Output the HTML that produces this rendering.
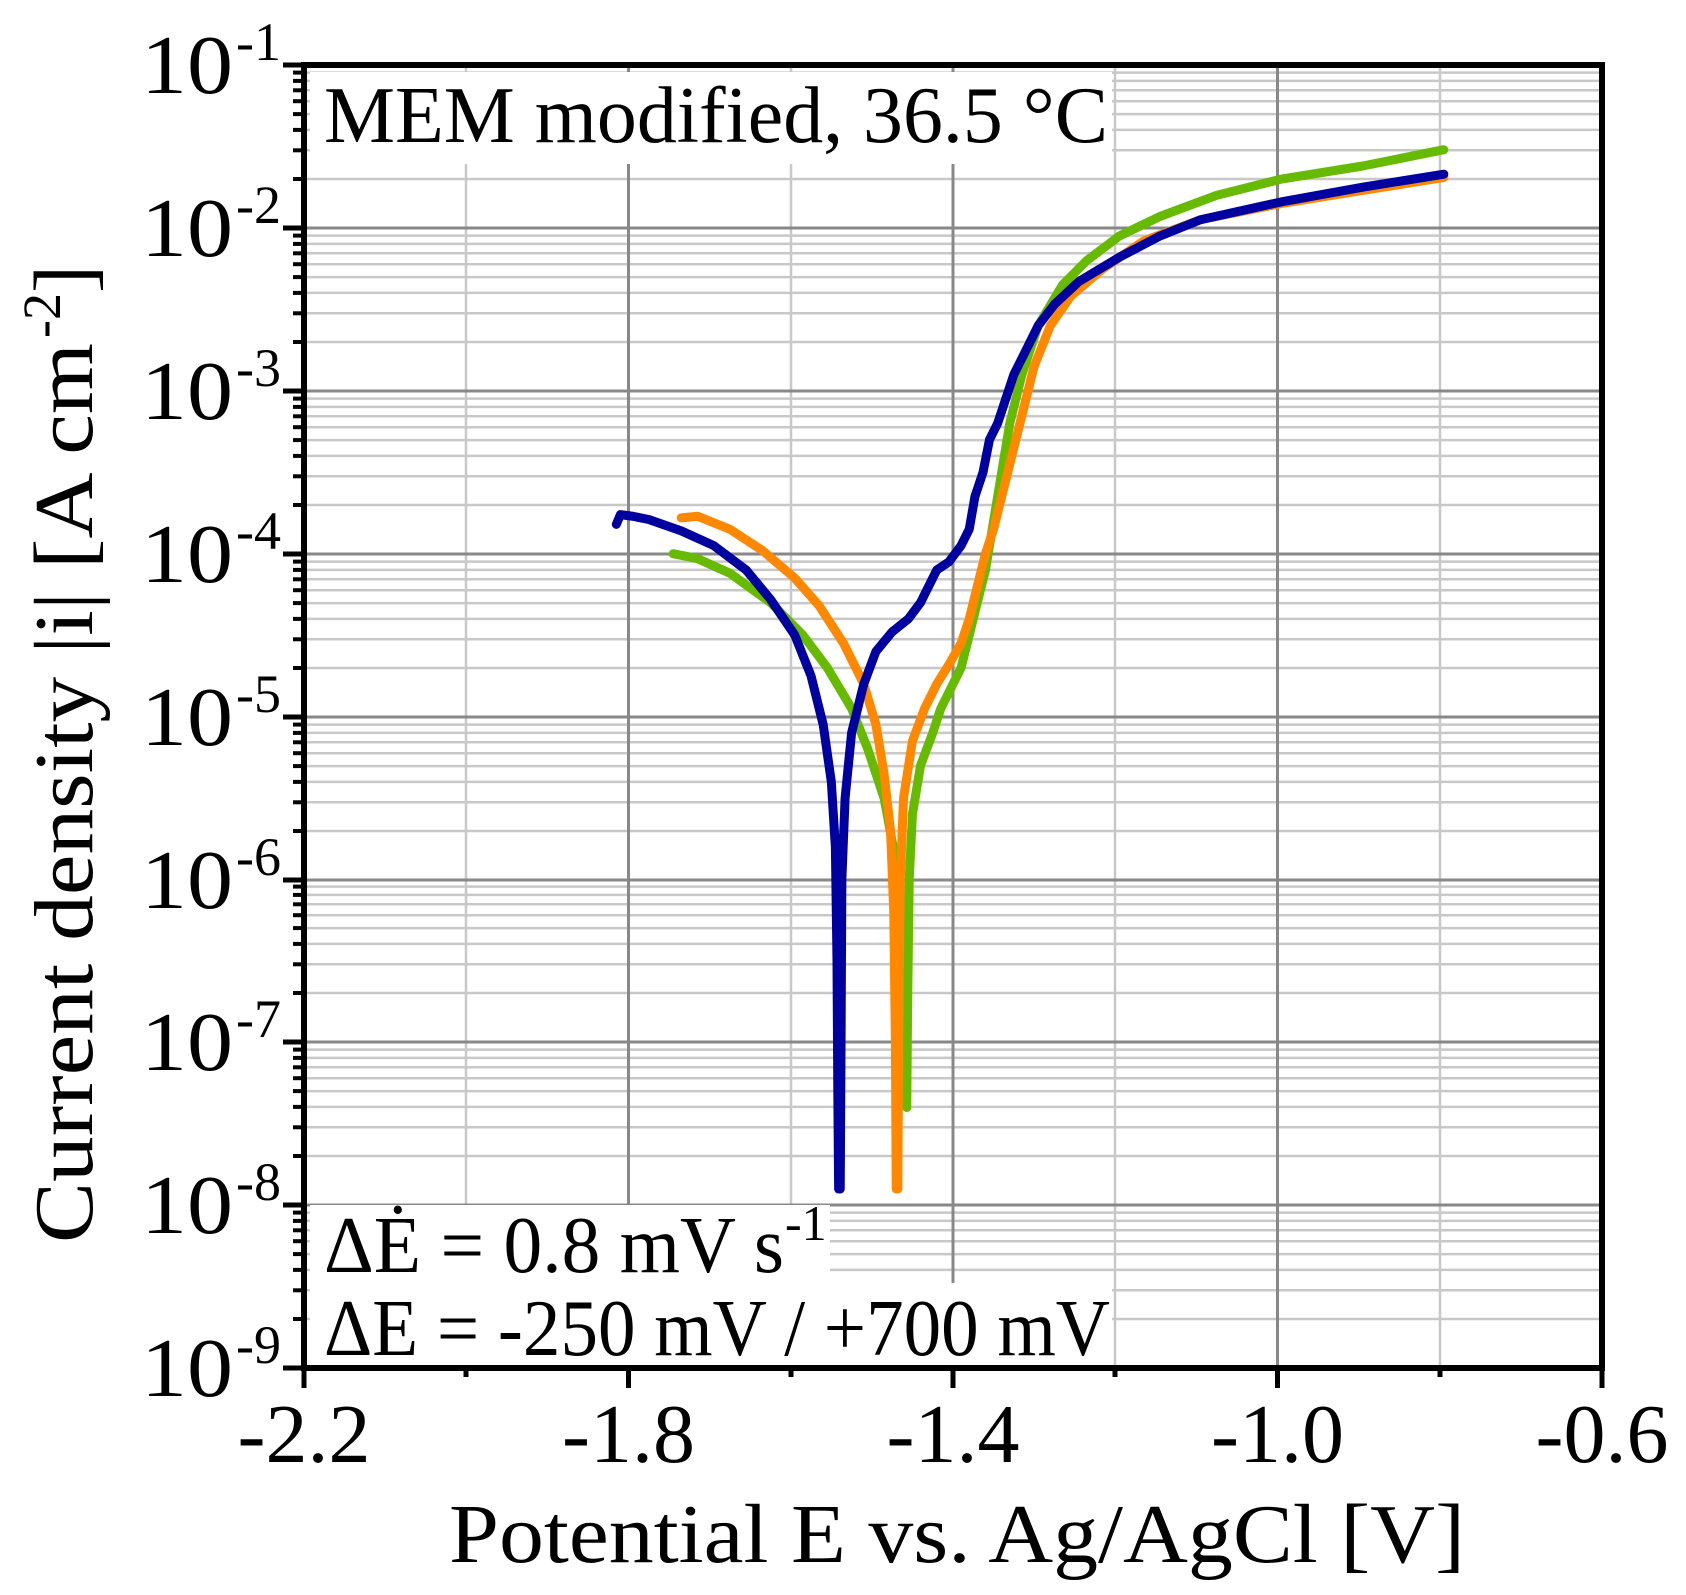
<!DOCTYPE html>
<html><head><meta charset="utf-8"><style>
html,body{margin:0;padding:0;background:#fff;}
svg{display:block;font-family:"Liberation Serif",serif;}
</style></head><body>
<svg width="1686" height="1595" viewBox="0 0 1686 1595" xmlns="http://www.w3.org/2000/svg">
<rect width="1686" height="1595" fill="#fff"/>
<g stroke="#c8c8c8" stroke-width="2.5">
<line x1="304" x2="1602" y1="179" y2="179"/><line x1="304" x2="1602" y1="150.3" y2="150.3"/><line x1="304" x2="1602" y1="129.9" y2="129.9"/><line x1="304" x2="1602" y1="114.1" y2="114.1"/><line x1="304" x2="1602" y1="101.2" y2="101.2"/><line x1="304" x2="1602" y1="90.3" y2="90.3"/><line x1="304" x2="1602" y1="80.9" y2="80.9"/><line x1="304" x2="1602" y1="72.6" y2="72.6"/>
<line x1="304" x2="1602" y1="342" y2="342"/><line x1="304" x2="1602" y1="313.3" y2="313.3"/><line x1="304" x2="1602" y1="292.9" y2="292.9"/><line x1="304" x2="1602" y1="277.1" y2="277.1"/><line x1="304" x2="1602" y1="264.2" y2="264.2"/><line x1="304" x2="1602" y1="253.3" y2="253.3"/><line x1="304" x2="1602" y1="243.9" y2="243.9"/><line x1="304" x2="1602" y1="235.6" y2="235.6"/>
<line x1="304" x2="1602" y1="505" y2="505"/><line x1="304" x2="1602" y1="476.3" y2="476.3"/><line x1="304" x2="1602" y1="455.9" y2="455.9"/><line x1="304" x2="1602" y1="440.1" y2="440.1"/><line x1="304" x2="1602" y1="427.2" y2="427.2"/><line x1="304" x2="1602" y1="416.3" y2="416.3"/><line x1="304" x2="1602" y1="406.9" y2="406.9"/><line x1="304" x2="1602" y1="398.6" y2="398.6"/>
<line x1="304" x2="1602" y1="668" y2="668"/><line x1="304" x2="1602" y1="639.3" y2="639.3"/><line x1="304" x2="1602" y1="618.9" y2="618.9"/><line x1="304" x2="1602" y1="603.1" y2="603.1"/><line x1="304" x2="1602" y1="590.2" y2="590.2"/><line x1="304" x2="1602" y1="579.3" y2="579.3"/><line x1="304" x2="1602" y1="569.9" y2="569.9"/><line x1="304" x2="1602" y1="561.6" y2="561.6"/>
<line x1="304" x2="1602" y1="831" y2="831"/><line x1="304" x2="1602" y1="802.3" y2="802.3"/><line x1="304" x2="1602" y1="781.9" y2="781.9"/><line x1="304" x2="1602" y1="766.1" y2="766.1"/><line x1="304" x2="1602" y1="753.2" y2="753.2"/><line x1="304" x2="1602" y1="742.3" y2="742.3"/><line x1="304" x2="1602" y1="732.9" y2="732.9"/><line x1="304" x2="1602" y1="724.6" y2="724.6"/>
<line x1="304" x2="1602" y1="993" y2="993"/><line x1="304" x2="1602" y1="964.3" y2="964.3"/><line x1="304" x2="1602" y1="943.9" y2="943.9"/><line x1="304" x2="1602" y1="928.1" y2="928.1"/><line x1="304" x2="1602" y1="915.2" y2="915.2"/><line x1="304" x2="1602" y1="904.3" y2="904.3"/><line x1="304" x2="1602" y1="894.9" y2="894.9"/><line x1="304" x2="1602" y1="886.6" y2="886.6"/>
<line x1="304" x2="1602" y1="1156" y2="1156"/><line x1="304" x2="1602" y1="1127.3" y2="1127.3"/><line x1="304" x2="1602" y1="1106.9" y2="1106.9"/><line x1="304" x2="1602" y1="1091.1" y2="1091.1"/><line x1="304" x2="1602" y1="1078.2" y2="1078.2"/><line x1="304" x2="1602" y1="1067.3" y2="1067.3"/><line x1="304" x2="1602" y1="1057.9" y2="1057.9"/><line x1="304" x2="1602" y1="1049.6" y2="1049.6"/>
<line x1="304" x2="1602" y1="1319" y2="1319"/><line x1="304" x2="1602" y1="1290.3" y2="1290.3"/><line x1="304" x2="1602" y1="1269.9" y2="1269.9"/><line x1="304" x2="1602" y1="1254.1" y2="1254.1"/><line x1="304" x2="1602" y1="1241.2" y2="1241.2"/><line x1="304" x2="1602" y1="1230.3" y2="1230.3"/><line x1="304" x2="1602" y1="1220.9" y2="1220.9"/><line x1="304" x2="1602" y1="1212.6" y2="1212.6"/>
<line x1="466" x2="466" y1="65" y2="1368"/><line x1="791" x2="791" y1="65" y2="1368"/><line x1="1115" x2="1115" y1="65" y2="1368"/><line x1="1440" x2="1440" y1="65" y2="1368"/>
</g>
<g stroke="#888" stroke-width="3">
<line x1="628.5" x2="628.5" y1="65" y2="1368"/><line x1="953" x2="953" y1="65" y2="1368"/><line x1="1277.5" x2="1277.5" y1="65" y2="1368"/>
<line x1="304" x2="1602" y1="228" y2="228"/><line x1="304" x2="1602" y1="391" y2="391"/><line x1="304" x2="1602" y1="554" y2="554"/><line x1="304" x2="1602" y1="717" y2="717"/><line x1="304" x2="1602" y1="880" y2="880"/><line x1="304" x2="1602" y1="1042" y2="1042"/><line x1="304" x2="1602" y1="1205" y2="1205"/>
</g>
<g fill="none" stroke-linejoin="round" stroke-linecap="round" transform="translate(304 65) scale(811.25 -162.9) translate(2.205 1)">
<polyline vector-effect="non-scaling-stroke" stroke="#66BB00" stroke-width="9" points="-1.75,-4 -1.72,-4.03 -1.68,-4.12 -1.63,-4.3 -1.59,-4.5 -1.56,-4.7 -1.53,-4.95 -1.51,-5.2 -1.49,-5.5 -1.475,-5.9 -1.468,-6.3 -1.465,-6.8 -1.463,-7.3 -1.462,-7.4 -1.461,-6.8 -1.459,-6 -1.455,-5.6 -1.445,-5.3 -1.43,-5.1 -1.42,-4.95 -1.405,-4.8 -1.395,-4.7 -1.385,-4.5 -1.375,-4.3 -1.365,-4.1 -1.355,-3.8 -1.345,-3.5 -1.335,-3.2 -1.32,-2.9 -1.3,-2.6 -1.27,-2.35 -1.24,-2.2 -1.2,-2.05 -1.15,-1.93 -1.08,-1.8 -1.0,-1.7 -0.9,-1.62 -0.8,-1.52"/>
<polyline vector-effect="non-scaling-stroke" stroke="#FF8800" stroke-width="9" points="-1.74,-3.78 -1.72,-3.77 -1.68,-3.85 -1.64,-3.98 -1.6,-4.15 -1.57,-4.32 -1.54,-4.55 -1.515,-4.8 -1.5,-5.05 -1.49,-5.35 -1.482,-5.7 -1.478,-6.2 -1.476,-7 -1.475,-7.9 -1.473,-7.9 -1.472,-7 -1.47,-6 -1.466,-5.5 -1.455,-5.15 -1.44,-4.95 -1.425,-4.8 -1.41,-4.68 -1.395,-4.55 -1.385,-4.4 -1.375,-4.2 -1.365,-4 -1.355,-3.85 -1.345,-3.65 -1.335,-3.45 -1.32,-3.15 -1.305,-2.85 -1.285,-2.6 -1.26,-2.42 -1.22,-2.25 -1.17,-2.08 -1.1,-1.95 -1.0,-1.85 -0.9,-1.77 -0.8,-1.69"/>
<polyline vector-effect="non-scaling-stroke" stroke="#0000A0" stroke-width="9" points="-1.82,-3.82 -1.815,-3.76 -1.8,-3.77 -1.78,-3.79 -1.74,-3.86 -1.7,-3.95 -1.66,-4.1 -1.63,-4.28 -1.6,-4.5 -1.58,-4.75 -1.565,-5.05 -1.555,-5.4 -1.55,-5.8 -1.548,-6.5 -1.547,-7.3 -1.546,-7.9 -1.544,-7.9 -1.543,-7 -1.542,-6 -1.538,-5.5 -1.53,-5.1 -1.515,-4.8 -1.5,-4.6 -1.48,-4.48 -1.46,-4.4 -1.445,-4.3 -1.435,-4.2 -1.425,-4.1 -1.41,-4.05 -1.395,-3.95 -1.385,-3.85 -1.378,-3.65 -1.368,-3.5 -1.36,-3.3 -1.35,-3.2 -1.34,-3.05 -1.33,-2.9 -1.315,-2.75 -1.3,-2.6 -1.28,-2.47 -1.25,-2.33 -1.2,-2.18 -1.15,-2.05 -1.1,-1.95 -1.0,-1.84 -0.9,-1.75 -0.8,-1.67"/>
</g>
<rect x="310" y="72" width="802" height="92" fill="#fff"/>
<text x="324" y="142" font-size="80" textLength="784" lengthAdjust="spacingAndGlyphs">MEM modified, 36.5 °C</text>
<rect x="310" y="1205" width="520" height="78" fill="#fff"/>
<rect x="310" y="1283" width="802" height="82" fill="#fff"/>
<text x="324" y="1272" font-size="80" textLength="460" lengthAdjust="spacingAndGlyphs">ΔĖ = 0.8 mV s</text>
<text x="785" y="1240" font-size="50">-1</text>
<text x="324" y="1355" font-size="80" textLength="786" lengthAdjust="spacingAndGlyphs">ΔE = -250 mV / +700 mV</text>
<path d="M304 65 H1602 V1368 H304 Z" stroke="#000" stroke-width="6" fill="none"/>
<g stroke="#000" stroke-width="5">
<line x1="283" x2="304" y1="65" y2="65"/><line x1="283" x2="304" y1="228" y2="228"/><line x1="283" x2="304" y1="391" y2="391"/><line x1="283" x2="304" y1="554" y2="554"/><line x1="283" x2="304" y1="717" y2="717"/><line x1="283" x2="304" y1="880" y2="880"/><line x1="283" x2="304" y1="1042" y2="1042"/><line x1="283" x2="304" y1="1205" y2="1205"/><line x1="283" x2="304" y1="1368" y2="1368"/>
<line x1="304" x2="304" y1="1368" y2="1388"/><line x1="628.5" x2="628.5" y1="1368" y2="1388"/><line x1="953" x2="953" y1="1368" y2="1388"/><line x1="1277.5" x2="1277.5" y1="1368" y2="1388"/><line x1="1602" x2="1602" y1="1368" y2="1388"/>
<line x1="466" x2="466" y1="1368" y2="1377"/><line x1="791" x2="791" y1="1368" y2="1377"/><line x1="1115" x2="1115" y1="1368" y2="1377"/><line x1="1440" x2="1440" y1="1368" y2="1377"/>
</g>
<g stroke="#000" stroke-width="4">
<line x1="293" x2="304" y1="179" y2="179"/><line x1="293" x2="304" y1="150.3" y2="150.3"/><line x1="293" x2="304" y1="129.9" y2="129.9"/><line x1="293" x2="304" y1="114.1" y2="114.1"/><line x1="293" x2="304" y1="101.2" y2="101.2"/><line x1="293" x2="304" y1="90.3" y2="90.3"/><line x1="293" x2="304" y1="80.9" y2="80.9"/><line x1="293" x2="304" y1="72.6" y2="72.6"/>
<line x1="293" x2="304" y1="342" y2="342"/><line x1="293" x2="304" y1="313.3" y2="313.3"/><line x1="293" x2="304" y1="292.9" y2="292.9"/><line x1="293" x2="304" y1="277.1" y2="277.1"/><line x1="293" x2="304" y1="264.2" y2="264.2"/><line x1="293" x2="304" y1="253.3" y2="253.3"/><line x1="293" x2="304" y1="243.9" y2="243.9"/><line x1="293" x2="304" y1="235.6" y2="235.6"/>
<line x1="293" x2="304" y1="505" y2="505"/><line x1="293" x2="304" y1="476.3" y2="476.3"/><line x1="293" x2="304" y1="455.9" y2="455.9"/><line x1="293" x2="304" y1="440.1" y2="440.1"/><line x1="293" x2="304" y1="427.2" y2="427.2"/><line x1="293" x2="304" y1="416.3" y2="416.3"/><line x1="293" x2="304" y1="406.9" y2="406.9"/><line x1="293" x2="304" y1="398.6" y2="398.6"/>
<line x1="293" x2="304" y1="668" y2="668"/><line x1="293" x2="304" y1="639.3" y2="639.3"/><line x1="293" x2="304" y1="618.9" y2="618.9"/><line x1="293" x2="304" y1="603.1" y2="603.1"/><line x1="293" x2="304" y1="590.2" y2="590.2"/><line x1="293" x2="304" y1="579.3" y2="579.3"/><line x1="293" x2="304" y1="569.9" y2="569.9"/><line x1="293" x2="304" y1="561.6" y2="561.6"/>
<line x1="293" x2="304" y1="831" y2="831"/><line x1="293" x2="304" y1="802.3" y2="802.3"/><line x1="293" x2="304" y1="781.9" y2="781.9"/><line x1="293" x2="304" y1="766.1" y2="766.1"/><line x1="293" x2="304" y1="753.2" y2="753.2"/><line x1="293" x2="304" y1="742.3" y2="742.3"/><line x1="293" x2="304" y1="732.9" y2="732.9"/><line x1="293" x2="304" y1="724.6" y2="724.6"/>
<line x1="293" x2="304" y1="993" y2="993"/><line x1="293" x2="304" y1="964.3" y2="964.3"/><line x1="293" x2="304" y1="943.9" y2="943.9"/><line x1="293" x2="304" y1="928.1" y2="928.1"/><line x1="293" x2="304" y1="915.2" y2="915.2"/><line x1="293" x2="304" y1="904.3" y2="904.3"/><line x1="293" x2="304" y1="894.9" y2="894.9"/><line x1="293" x2="304" y1="886.6" y2="886.6"/>
<line x1="293" x2="304" y1="1156" y2="1156"/><line x1="293" x2="304" y1="1127.3" y2="1127.3"/><line x1="293" x2="304" y1="1106.9" y2="1106.9"/><line x1="293" x2="304" y1="1091.1" y2="1091.1"/><line x1="293" x2="304" y1="1078.2" y2="1078.2"/><line x1="293" x2="304" y1="1067.3" y2="1067.3"/><line x1="293" x2="304" y1="1057.9" y2="1057.9"/><line x1="293" x2="304" y1="1049.6" y2="1049.6"/>
<line x1="293" x2="304" y1="1319" y2="1319"/><line x1="293" x2="304" y1="1290.3" y2="1290.3"/><line x1="293" x2="304" y1="1269.9" y2="1269.9"/><line x1="293" x2="304" y1="1254.1" y2="1254.1"/><line x1="293" x2="304" y1="1241.2" y2="1241.2"/><line x1="293" x2="304" y1="1230.3" y2="1230.3"/><line x1="293" x2="304" y1="1220.9" y2="1220.9"/><line x1="293" x2="304" y1="1212.6" y2="1212.6"/>
</g>
<g font-size="84">
<text x="141" y="93" textLength="92" lengthAdjust="spacingAndGlyphs">10</text><text x="236" y="60" font-size="54">-1</text>
<text x="141" y="256" textLength="92" lengthAdjust="spacingAndGlyphs">10</text><text x="236" y="223" font-size="54">-2</text>
<text x="141" y="419" textLength="92" lengthAdjust="spacingAndGlyphs">10</text><text x="236" y="386" font-size="54">-3</text>
<text x="141" y="582" textLength="92" lengthAdjust="spacingAndGlyphs">10</text><text x="236" y="549" font-size="54">-4</text>
<text x="141" y="745" textLength="92" lengthAdjust="spacingAndGlyphs">10</text><text x="236" y="712" font-size="54">-5</text>
<text x="141" y="908" textLength="92" lengthAdjust="spacingAndGlyphs">10</text><text x="236" y="875" font-size="54">-6</text>
<text x="141" y="1070" textLength="92" lengthAdjust="spacingAndGlyphs">10</text><text x="236" y="1037" font-size="54">-7</text>
<text x="141" y="1233" textLength="92" lengthAdjust="spacingAndGlyphs">10</text><text x="236" y="1200" font-size="54">-8</text>
<text x="141" y="1396" textLength="92" lengthAdjust="spacingAndGlyphs">10</text><text x="236" y="1363" font-size="54">-9</text>
</g>
<g font-size="84" text-anchor="middle">
<text x="304" y="1462">-2.2</text>
<text x="628.5" y="1462">-1.8</text>
<text x="953" y="1462">-1.4</text>
<text x="1277.5" y="1462">-1.0</text>
<text x="1602" y="1462">-0.6</text>
</g>
<text x="449" y="1562" font-size="84" textLength="1016" lengthAdjust="spacingAndGlyphs">Potential E vs. Ag/AgCl [V]</text>
<g transform="translate(92 1243) rotate(-90)">
<text x="0" y="0" font-size="84" textLength="900" lengthAdjust="spacingAndGlyphs">Current density |i| [A cm</text>
<text x="905" y="-32" font-size="54">-2</text>
<text x="950" y="0" font-size="84">]</text>
</g>
</svg>
</body></html>
